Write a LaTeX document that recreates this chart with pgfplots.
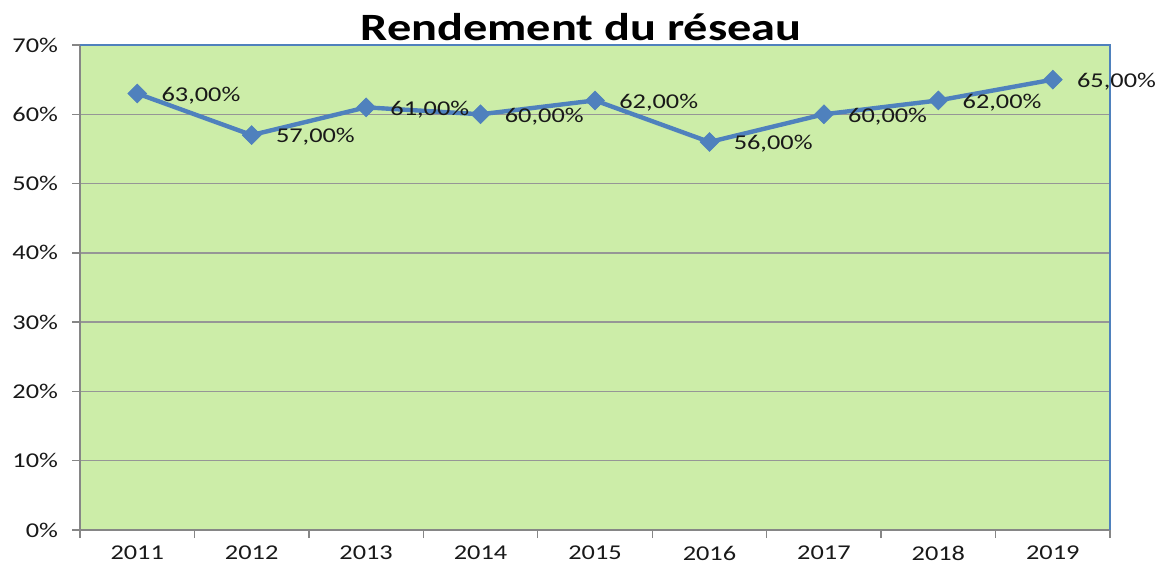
\documentclass[border=0pt]{standalone}
\usepackage{pgfplots}
\pgfplotsset{compat=1.18}
\usepackage{fontspec}
\setmainfont[FakeStretch=1.25]{Carlito}
\definecolor{bgg}{RGB}{204,237,168}
\definecolor{lineb}{RGB}{79,129,189}
\definecolor{gridg}{RGB}{150,150,150}
\definecolor{axg}{RGB}{134,134,134}
\definecolor{txt}{RGB}{25,25,25}
\begin{document}
\begin{tikzpicture}
\begin{axis}[
  scale only axis,
  width=772.5pt, height=363.75pt,
  xmin=-0.5, xmax=8.5, ymin=0, ymax=70,
  axis line style={draw=none},
  axis background/.style={fill=bgg},
  xtick pos=bottom, ytick pos=left,
  xtick={0,...,8},
  xticklabels={2011,2012,2013,2014,2015,2016,2017,2018,2019},
  major x tick style={draw=none},
  minor xtick={-0.5,0.5,...,8.5},
  minor x tick style={axg, line width=1pt},
  minor tick length=6pt,
  ytick={0,10,...,70},
  yticklabels={0\%,10\%,20\%,30\%,40\%,50\%,60\%,70\%},
  y tick style={axg, line width=1pt},
  major tick length=6pt,
  tick align=outside,
  ymajorgrids,
  y grid style={gridg, line width=1pt},
  tick label style={font=\fontsize{15.8}{18}\selectfont, text=txt},
  xticklabel style={yshift=-5pt, text depth=0pt, inner sep=1pt},
  yticklabel style={xshift=-7pt},
  clip=false,
  point meta=explicit symbolic,
  nodes near coords,
  every node near coord/.style={anchor=west, inner sep=0pt, xshift=18pt, yshift=-1.5pt,
     font=\fontsize{15.8}{18}\selectfont, text=txt},
]
\addplot[lineb, line width=3.3pt, mark=square*, mark size=5pt, mark options={fill=lineb, draw=lineb, line width=0.5pt, rotate=45}]
table[meta=lab] {
x y lab
0 63 63,00\%
1 57 57,00\%
2 61 61,00\%
3 60 60,00\%
4 62 62,00\%
5 56 56,00\%
6 60 60,00\%
7 62 62,00\%
8 65 65,00\%
};
\draw[axg, line width=1.1pt] (rel axis cs:0,1) -- (rel axis cs:0,0) -- (rel axis cs:1,0);
\draw[lineb, line width=0.8pt] (rel axis cs:0,1) -- (rel axis cs:1,1) -- (rel axis cs:1,0);
\coordinate (sw) at (rel axis cs:0,0);
\coordinate (ne) at (rel axis cs:1,1);
\node[font=\bfseries\fontsize{29}{34}\selectfont, anchor=center] at ([shift={(-10.5pt,13.5pt)}]rel axis cs:0.5,1) {Rendement du réseau};
\end{axis}
\pgfresetboundingbox
\path[use as bounding box] ([shift={(-60pt,-27.75pt)}]sw) rectangle ([shift={(39pt,33.75pt)}]ne);
\end{tikzpicture}
\end{document}
